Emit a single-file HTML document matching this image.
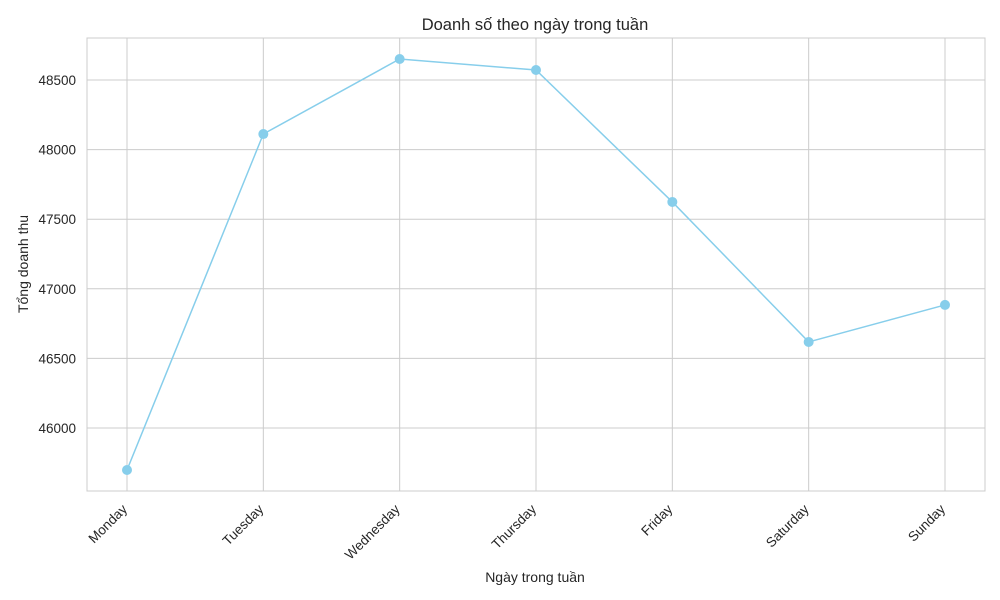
<!DOCTYPE html>
<html><head><meta charset="utf-8"><style>
html,body{margin:0;padding:0;background:#fff;width:1000px;height:600px;overflow:hidden}
svg text{font-family:"Liberation Sans","DejaVu Sans",sans-serif;fill:#262626}
</style></head><body>
<svg id="chart" width="1000" height="600">
<rect x="87" y="38" width="898" height="453" fill="#fff" stroke="#cccccc" stroke-width="1"/>
<g id="grid"></g><g id="series"></g><g id="ticks"></g>
<text x="535" y="30" text-anchor="middle" font-size="16.5">Doanh số theo ngày trong tuần</text>
<text x="535" y="582" text-anchor="middle" font-size="14">Ngày trong tuần</text>
<text transform="translate(28,264) rotate(-90)" text-anchor="middle" font-size="14">Tổng doanh thu</text>
</svg>
<script>
const categories=["Monday","Tuesday","Wednesday","Thursday","Friday","Saturday","Sunday"];
const revenue=[45698,48112,48651,48572,47624,46618,46884];
const yTicks=[46000,46500,47000,47500,48000,48500];
const NS="http://www.w3.org/2000/svg";
const L=87,R=985,T=38,B=491,yMin=45547,yMax=48802;
const xs=i=>127+i*(945-127)/(categories.length-1);
const ys=v=>B-(v-yMin)/(yMax-yMin)*(B-T);
function mk(tag,attrs,parent){const e=document.createElementNS(NS,tag);for(const k in attrs)e.setAttribute(k,attrs[k]);document.getElementById(parent).appendChild(e);return e;}
yTicks.forEach(v=>{
 const g=mk('line',{x1:L,x2:R,y1:ys(v),y2:ys(v),stroke:'#cccccc','stroke-width':1},'grid');
 
 
 const t=mk('text',{x:76,y:ys(v)+5,'text-anchor':'end','font-size':13.5},'ticks');
 t.textContent=v;
 
 
});
categories.forEach((c,i)=>{
 const g=mk('line',{x1:xs(i),x2:xs(i),y1:T,y2:B,stroke:'#cccccc','stroke-width':1},'grid');
 
 
 const t=mk('text',{x:0,y:0,'text-anchor':'end','font-size':13.5,transform:`translate(${xs(i)+1},${B+19}) rotate(-45)`},'ticks');
 t.textContent=c;
 
 
});
const pl=mk('polyline',{points:revenue.map((v,i)=>xs(i)+','+ys(v)).join(' '),fill:'none',stroke:'#87ceeb','stroke-width':1.5},'series');


revenue.forEach((v,i)=>{
 const c=mk('circle',{cx:xs(i),cy:ys(v),r:5,fill:'#87ceeb'},'series');
 
 
});
</script>
</body></html>
